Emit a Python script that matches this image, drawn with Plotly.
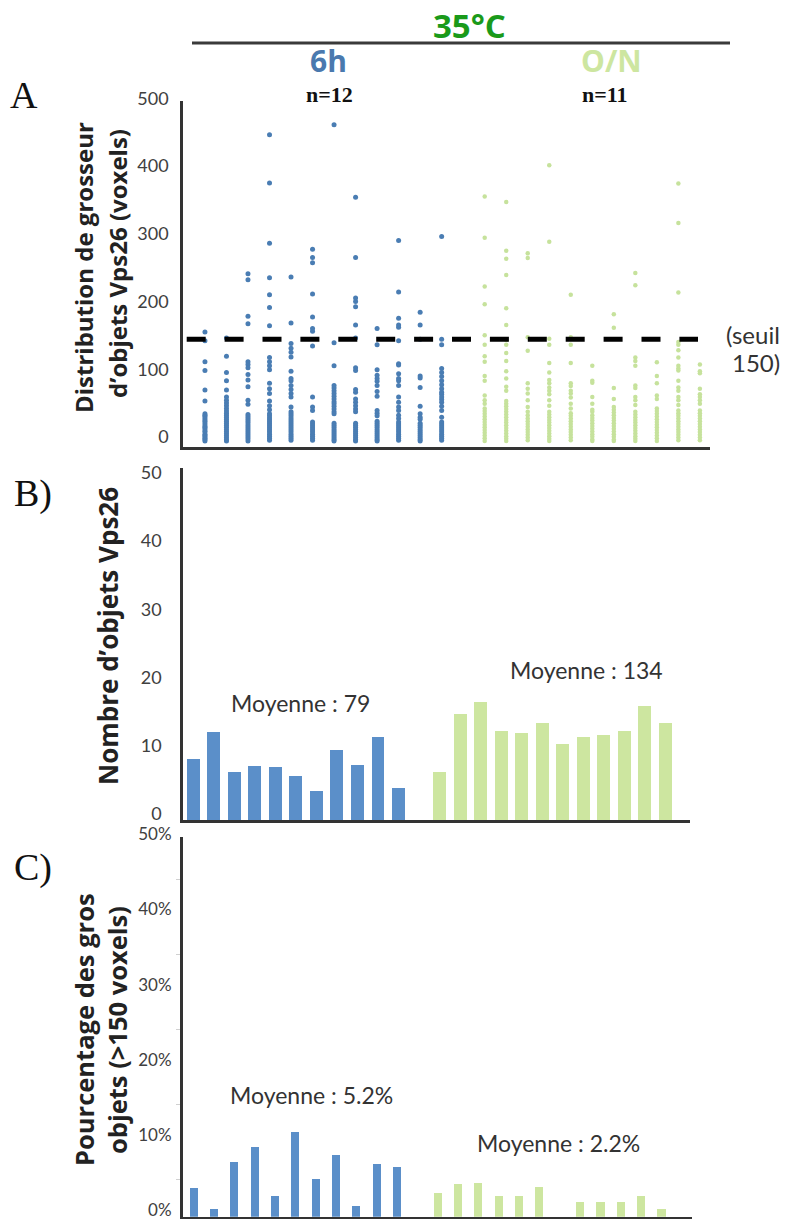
import plotly.graph_objects as go

W, H = 790, 1219

# ---------------- DATA ----------------
threshold = 150

strip_6h = [
    [161, 148, 117, 104, 75, 59, 40, 38, 36, 33, 30, 28, 25, 22, 20, 18, 15, 13, 10, 8, 6, 4, 2, 0],
    [152, 125, 101, 89, 75, 65, 60, 56, 52, 48, 44, 41, 38, 35, 32, 29, 26, 23, 20, 17, 14, 11, 8, 5, 2, 0],
    [247, 238, 184, 173, 117, 113, 108, 98, 90, 80, 60, 54, 39, 36, 33, 30, 27, 24, 21, 18, 15, 12, 9, 6, 3, 0],
    [452, 381, 292, 241, 216, 197, 170, 123, 117, 111, 105, 85, 77, 70, 59, 52, 46, 40, 37, 34, 31, 28, 25, 22, 19, 16, 13, 10, 7, 4, 1],
    [242, 174, 144, 137, 131, 124, 103, 92, 89, 82, 76, 70, 65, 50, 43, 40, 37, 34, 31, 28, 25, 22, 19, 16, 13, 10, 7, 4, 1],
    [283, 271, 263, 217, 183, 166, 162, 140, 65, 50, 45, 28, 25, 22, 19, 16, 13, 10, 7, 4, 1],
    [467, 145, 111, 82, 78, 74, 70, 66, 62, 58, 55, 51, 47, 43, 40, 26, 23, 20, 17, 14, 11, 8, 5, 2, 0],
    [360, 271, 211, 206, 198, 171, 152, 108, 104, 76, 72, 62, 57, 52, 47, 43, 26, 23, 20, 17, 14, 11, 8, 5, 2, 0],
    [166, 142, 105, 97, 92, 88, 82, 73, 66, 45, 41, 37, 29, 26, 23, 20, 17, 14, 11, 8, 5, 2, 0],
    [296, 220, 181, 171, 168, 148, 114, 112, 99, 92, 89, 82, 65, 57, 50, 45, 38, 33, 28, 25, 22, 19, 16, 13, 10, 7, 4, 1],
    [190, 171, 150, 96, 93, 79, 51, 40, 35, 32, 26, 23, 20, 17, 14, 11, 8, 5, 2, 0],
    [302, 150, 142, 107, 101, 95, 89, 83, 77, 72, 69, 65, 61, 57, 51, 45, 35, 28, 25, 22, 19, 16, 13, 10, 7, 4, 1],
]

strip_on = [
    [361, 300, 228, 202, 156, 142, 125, 117, 96, 89, 67, 60, 55, 48, 44, 40, 36, 32, 28, 24, 20, 16, 12, 8, 4, 0],
    [353, 281, 269, 245, 196, 171, 149, 142, 130, 118, 103, 92, 80, 74, 59, 55, 51, 47, 43, 39, 35, 31, 27, 23, 19, 15, 11, 7, 3, 0],
    [277, 270, 153, 133, 85, 77, 70, 60, 50, 43, 38, 33, 29, 25, 21, 17, 13, 9, 5, 1],
    [407, 294, 151, 142, 115, 101, 90, 85, 79, 74, 69, 60, 52, 43, 39, 35, 31, 27, 23, 19, 15, 11, 7, 3, 0],
    [216, 153, 142, 115, 85, 81, 74, 70, 64, 55, 48, 41, 37, 33, 29, 25, 21, 17, 13, 9, 5, 1],
    [111, 89, 86, 65, 55, 46, 43, 38, 34, 30, 26, 22, 18, 14, 10, 6, 2, 0],
    [187, 167, 78, 62, 50, 46, 42, 38, 34, 30, 26, 22, 18, 14, 10, 6, 2, 0],
    [248, 230, 123, 118, 111, 82, 78, 65, 60, 53, 43, 39, 35, 31, 27, 23, 19, 15, 11, 7, 3, 0],
    [116, 96, 85, 67, 62, 48, 44, 40, 36, 32, 28, 24, 20, 16, 12, 8, 4, 0],
    [380, 322, 219, 146, 142, 134, 123, 111, 107, 104, 89, 79, 74, 65, 60, 53, 45, 41, 37, 33, 29, 25, 21, 17, 13, 9, 5, 1],
    [113, 103, 100, 77, 69, 65, 60, 55, 45, 41, 37, 33, 29, 25, 21, 17, 13, 9, 5, 1],
]

count_6h = [9.0, 12.9, 7.1, 7.9, 7.8, 6.4, 4.2, 10.2, 8.1, 12.2, 4.7]
count_on = [7.1, 15.5, 17.3, 13.1, 12.8, 14.2, 11.1, 12.2, 12.4, 13.0, 16.7, 14.2]
pct_6h = [3.8, 1.0, 7.3, 9.3, 2.8, 11.3, 5.0, 8.2, 1.4, 7.0, 6.6]
pct_on = [3.2, 4.3, 4.45, 2.7, 2.75, 3.9, 0, 2.0, 2.0, 1.9, 2.75, 1.0]

mean_count_6h = "Moyenne : 79"
mean_count_on = "Moyenne : 134"
mean_pct_6h = "Moyenne : 5.2%"
mean_pct_on = "Moyenne : 2.2%"

ticks_A = [0, 100, 200, 300, 400, 500]
ticks_B = [0, 10, 20, 30, 40, 50]
ticks_C = [0, 10, 20, 30, 40, 50]
ticklabels_C = [f"{v}%" for v in ticks_C]
minor_C = [5, 15, 25, 35, 45]

# ---------------- STYLE ----------------
BLUE_PT = "#4a7db3"
GREEN_PT = "#c6e29c"
BLUE_BAR = "#5b8fc9"
GREEN_BAR = "#cde6a0"
AXIS = "#333333"
TICKFONT = dict(family="Lato, Open Sans, sans-serif", size=18, color="#404040")


def px(x):
    return x / W


def py(y):
    return 1 - y / H


fig = go.Figure()

# ---- Panel A strips ----
for i, col in enumerate(strip_6h):
    fig.add_trace(go.Scatter(x=[i] * len(col), y=col, mode="markers",
                             marker=dict(size=5, color=BLUE_PT), xaxis="x", yaxis="y",
                             showlegend=False, hoverinfo="y"))
gap = len(strip_6h) + 1
for i, col in enumerate(strip_on):
    fig.add_trace(go.Scatter(x=[i + gap] * len(col), y=col, mode="markers",
                             marker=dict(size=4.5, color=GREEN_PT), xaxis="x", yaxis="y",
                             showlegend=False, hoverinfo="y"))

# ---- Panel B bars ----
nb = len(count_6h)
fig.add_trace(go.Bar(x=list(range(nb)), y=count_6h, marker=dict(color=BLUE_BAR, line_width=0),
                     width=0.63, xaxis="x2", yaxis="y2", showlegend=False))
fig.add_trace(go.Bar(x=[i + nb + 1 for i in range(len(count_on))], y=count_on,
                     marker=dict(color=GREEN_BAR, line_width=0),
                     width=0.63, xaxis="x2", yaxis="y2", showlegend=False))

# ---- Panel C bars ----
nc = len(pct_6h)
fig.add_trace(go.Bar(x=list(range(nc)), y=pct_6h, marker=dict(color=BLUE_BAR, line_width=0),
                     width=0.4, xaxis="x3", yaxis="y3", showlegend=False))
fig.add_trace(go.Bar(x=[i + nc + 1 for i in range(len(pct_on))], y=pct_on,
                     marker=dict(color=GREEN_BAR, line_width=0),
                     width=0.4, xaxis="x3", yaxis="y3", showlegend=False))

common_x = dict(showgrid=False, zeroline=False, showticklabels=False, ticks="",
                showline=True, linecolor=AXIS, linewidth=2.5, fixedrange=True, automargin=False)
common_y = dict(showgrid=False, zeroline=False, ticks="", showline=True, automargin=False,
                linecolor=AXIS, linewidth=2.5, fixedrange=True, ticklabeloverflow="allow")

fig.update_layout(
    template="none",
    width=W, height=H, autosize=False,
    margin=dict(l=0, r=0, t=0, b=0, pad=0),
    paper_bgcolor="white", plot_bgcolor="white",
    bargap=0,
    xaxis=dict(domain=[px(183), px(710)], range=[-1.02, 23.47], anchor="y", **common_x),
    yaxis=dict(domain=[py(447), py(101)], range=[-9, 502], anchor="x", tickfont=TICKFONT,
               tickvals=ticks_A, ticklabelstandoff=8, ticklabelshift=-4, **common_y),
    xaxis2=dict(domain=[px(183), px(690)], range=[-0.5, 24.2], anchor="y2", **common_x),
    yaxis2=dict(domain=[py(820), py(468)], range=[0, 51.6], anchor="x2", tickfont=TICKFONT,
                tickvals=ticks_B, ticklabelstandoff=15, ticklabelshift=-6, **common_y),
    xaxis3=dict(domain=[px(182.7), px(691.7)], range=[-0.52, 24.5], anchor="y3", **common_x),
    yaxis3=dict(domain=[py(1216.7), py(837)], range=[0, 50.6], anchor="x3",
                tickfont=dict(family="Lato, Open Sans, sans-serif", size=17, color="#404040"),
                tickvals=ticks_C, ticktext=ticklabels_C, ticklabelstandoff=5, ticklabelshift=-7,
                minor=dict(ticks="outside", ticklen=4, tickcolor="#d0d0d0", tickwidth=1,
                           tickvals=minor_C),
                **common_y),
)

# threshold dashed line
fig.add_shape(type="line", xref="x domain", yref="y", x0=(186.7 - 183) / 527, x1=(698 - 183) / 527,
              y0=threshold, y1=threshold,
              line=dict(color="black", width=5, dash="19px,18.9px"))

# header line
fig.add_shape(type="line", xref="paper", yref="paper", x0=px(192), x1=px(730), y0=py(43), y1=py(43),
              line=dict(color="#3a3a3a", width=3))

ann = []


def A(text, x, y, size, color="#222", family="Open Sans, sans-serif", bold=False, angle=0,
      xanchor="center", yanchor="middle"):
    t = f"<b>{text}</b>" if bold else text
    ann.append(dict(text=t, x=px(x), y=py(y), xref="paper", yref="paper", showarrow=False,
                    xanchor=xanchor, yanchor=yanchor, textangle=angle,
                    font=dict(size=size, color=color, family=family)))


A("35°C", 469, 25, 33, color="#1a9a1a", bold=True)
A("6h", 328, 61, 30, color="#4a79ae", bold=True)
A("O/N", 611, 61, 30, color=GREEN_BAR, bold=True)
A("n=12", 329, 94, 22, color="#111", family="Liberation Serif, serif", bold=True)
A("n=11", 605, 94, 22, color="#111", family="Liberation Serif, serif", bold=True)

A("A", 24, 95, 38, color="#111", family="Liberation Serif, serif")
A("B)", 33, 493, 38, color="#111", family="Liberation Serif, serif")
A("C)", 33, 867, 38, color="#111", family="Liberation Serif, serif")

A("Distribution de grosseur", 84, 268, 24, bold=True, angle=-90)
A("d’objets Vps26 (voxels)", 117, 264, 24, bold=True, angle=-90)
A("Nombre d’objets Vps26", 108, 636, 26, bold=True, angle=-90)
A("Pourcentage des gros", 84, 1030, 25.5, bold=True, angle=-90)
A("objets (>150 voxels)", 117, 1030, 25.5, bold=True, angle=-90)

A("(seuil", 724, 334, 24, color="#333", family="Lato, Open Sans, sans-serif", xanchor="left")
A("150)", 730, 362, 24, color="#333", family="Lato, Open Sans, sans-serif", xanchor="left")

MF = "Lato, Open Sans, sans-serif"
A(mean_count_6h, 300, 703, 23, color="#333", family=MF)
A(mean_count_on, 586, 670, 23, color="#333", family=MF)
A(mean_pct_6h, 311, 1095, 23, color="#333", family=MF)
A(mean_pct_on, 558, 1143, 23, color="#333", family=MF)

fig.update_layout(annotations=ann)

fig.write_html("out.html", config={"displayModeBar": False},
               post_script="document.body.style.margin='0';")
